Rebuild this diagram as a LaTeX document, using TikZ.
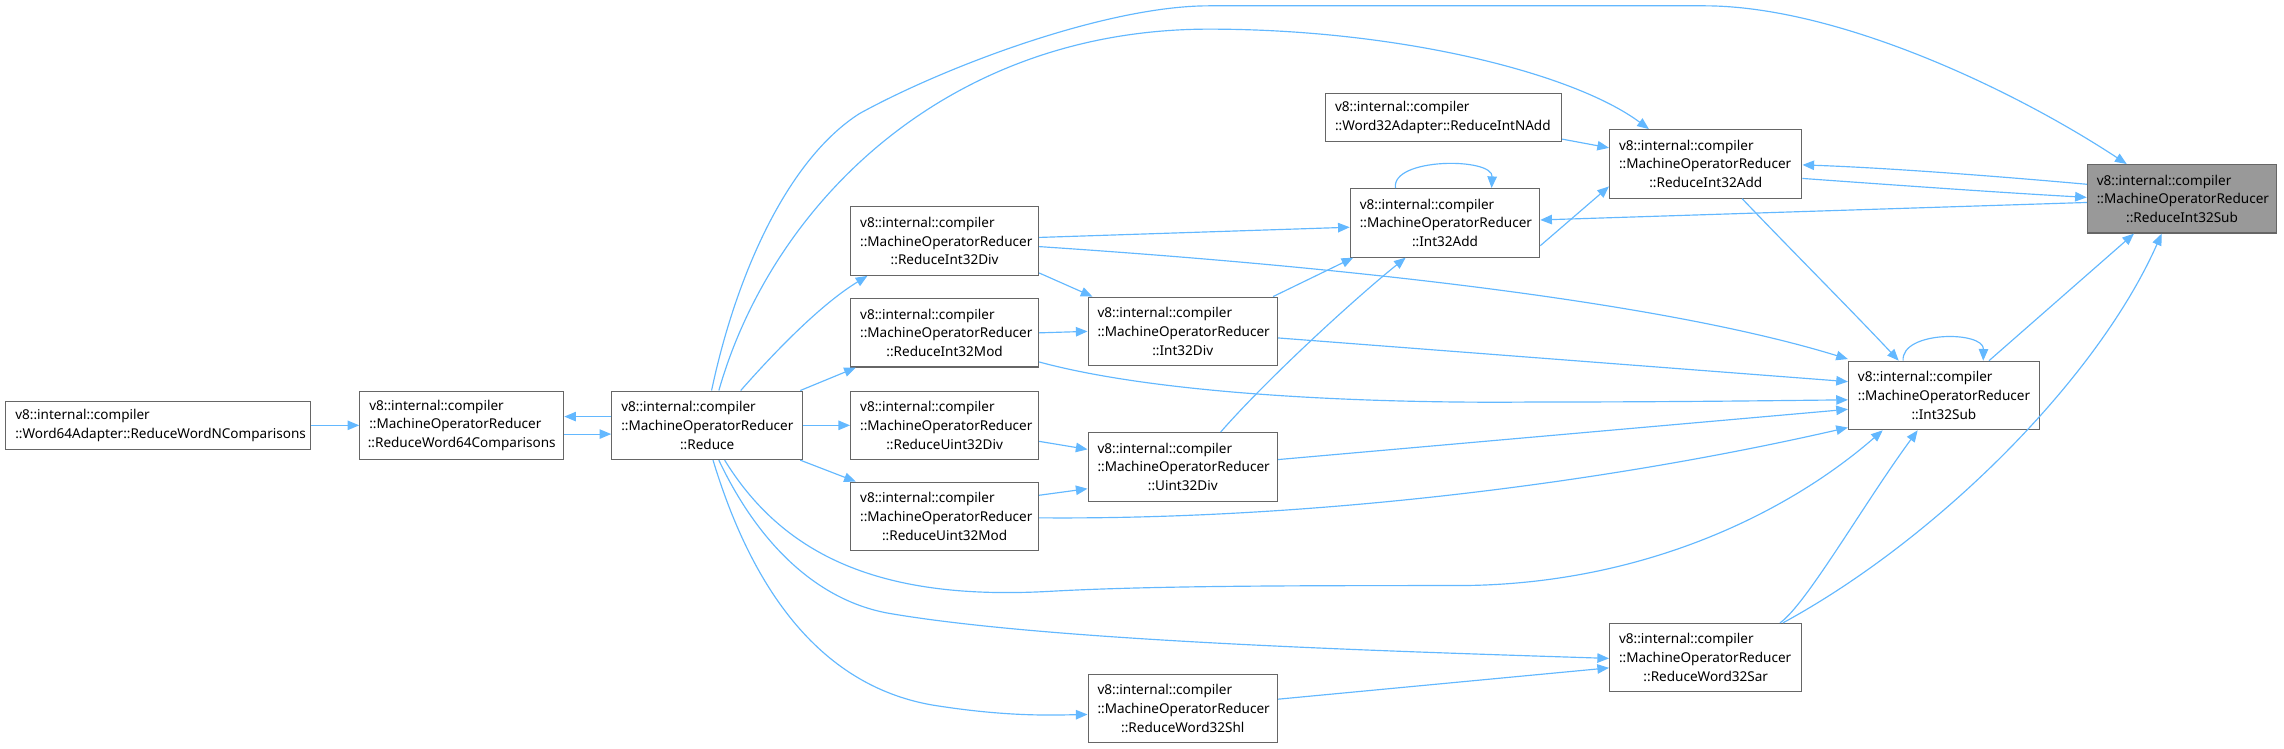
\documentclass[tikz,border=0pt]{standalone}
\usepackage{fontspec}
\setmainfont{Noto Sans}
\usetikzlibrary{arrows.meta}
\definecolor{edgeblue}{HTML}{63B8FF}
\definecolor{boxgray}{HTML}{666666}
\definecolor{focusgray}{HTML}{999999}
\newcommand{\ctrline}[1]{\hbox to \linewidth{\hss#1\hss}}
\tikzset{
  fn/.style={draw=boxgray, line width=0.8pt, fill=white, inner xsep=6.5pt, inner ysep=0pt,
    minimum height=47pt, align=left, font=\fontsize{9.3}{12.9}\selectfont, text width=#1},
  fn/.default=116pt,
  focus/.style={fill=focusgray},
  call/.style={draw=edgeblue, line width=0.8pt, -{Triangle[length=8pt,width=6.5pt]}},
}
\begin{document}
\begin{tikzpicture}[x=1pt,y=-1pt]
\useasboundingbox (0,0) rectangle (1568,514);
% nodes
\node[fn=196pt, minimum height=33pt] (N1) at (108.5,292) {v8::internal::compiler\\::Word64Adapter::ReduceWordNComparisons};
\node[fn=127pt] (N2) at (317,292) {v8::internal::compiler\\::MachineOperatorReducer\\\ctrline{::ReduceWord64Comparisons}};
\node[fn=118pt] (N3) at (485.5,292) {v8::internal::compiler\\::MachineOperatorReducer\\\ctrline{::Reduce}};
\node[fn] (N4) at (648.5,165.5) {v8::internal::compiler\\::MachineOperatorReducer\\\ctrline{::ReduceInt32Div}};
\node[fn] (N5) at (648.5,228.5) {v8::internal::compiler\\::MachineOperatorReducer\\\ctrline{::ReduceInt32Mod}};
\node[fn] (N6) at (648.5,292) {v8::internal::compiler\\::MachineOperatorReducer\\\ctrline{::ReduceUint32Div}};
\node[fn] (N7) at (648.5,354.5) {v8::internal::compiler\\::MachineOperatorReducer\\\ctrline{::ReduceUint32Mod}};
\node[fn=117pt] (N8) at (812,227.5) {v8::internal::compiler\\::MachineOperatorReducer\\\ctrline{::Int32Div}};
\node[fn=117pt] (N9) at (812,320.5) {v8::internal::compiler\\::MachineOperatorReducer\\\ctrline{::Uint32Div}};
\node[fn=117pt] (N10) at (812,486.5) {v8::internal::compiler\\::MachineOperatorReducer\\\ctrline{::ReduceWord32Shl}};
\node[fn=117pt] (N11) at (992,153) {v8::internal::compiler\\::MachineOperatorReducer\\\ctrline{::Int32Add}};
\node[fn=149pt, minimum height=33pt] (N12) at (991,80.5) {v8::internal::compiler\\::Word32Adapter::ReduceIntNAdd};
\node[fn=119pt] (N13) at (1171,112.5) {v8::internal::compiler\\::MachineOperatorReducer\\\ctrline{::ReduceInt32Add}};
\node[fn=118pt] (N14) at (1334.5,271.5) {v8::internal::compiler\\::MachineOperatorReducer\\\ctrline{::Int32Sub}};
\node[fn=119pt] (N15) at (1171,451.5) {v8::internal::compiler\\::MachineOperatorReducer\\\ctrline{::ReduceWord32Sar}};
\node[fn=117pt, focus] (N16) at (1498,136.5) {v8::internal::compiler\\::MachineOperatorReducer\\\ctrline{::ReduceInt32Sub}};
% edges
\draw[call] (N1.east) -- (N2.west);
\draw[call] ([yshift=6pt]N3.west) -- ([yshift=6pt]N2.east);
\draw[call] ([yshift=-6pt]N2.east) -- ([yshift=-6pt]N3.west);
\draw[call] ([xshift=23pt]N3.north) .. controls (535,238) and (565,208) .. ([xshift=-53pt]N4.south);
\draw[call] ([xshift=-2pt]N3.north east) -- ([xshift=-61pt]N5.south);
\draw[call] (N3.east) -- (N6.west);
\draw[call] ([xshift=-2pt]N3.south east) -- ([xshift=-61pt]N7.north);
\draw[call] ([yshift=2pt]N4.south east) -- ([xshift=-62pt]N8.north);
\draw[call] (N5.east) -- (N8.west);
\draw[call] ([yshift=-11pt]N6.east) -- ([yshift=12pt]N9.west);
\draw[call] ([yshift=14.5pt]N7.east) -- ([yshift=-15pt]N9.west);
\draw[call] ([yshift=2.5pt]N4.east) -- ([yshift=-3pt]N11.west);
\draw[call] ([xshift=62pt]N8.north) -- ([xshift=-63pt]N11.south);
\draw[call] ([xshift=26pt]N9.north) .. controls (870,260) and (930,205) .. ([xshift=-27pt]N11.south);
\draw[call] ([xshift=-34pt]N11.north) .. controls (955,108) and (1025,108) .. ([xshift=32pt]N11.north);
\draw[call] ([yshift=-15.7pt]N11.east) -- ([yshift=-15.5pt]N13.west);
\draw[call] ([yshift=-15pt]N12.east) -- ([yshift=11pt]N13.west);
\draw[call] ([yshift=10pt]N16.west) .. controls (1360,120) and (1290,115) .. ([yshift=-0.7pt]N13.east);
\draw[call] ([yshift=-10pt]N13.east) .. controls (1300,127) and (1370,132) .. ([yshift=1pt]N16.west);
\draw[call] ([yshift=-2.5pt]N16.west) -- ([yshift=2pt]N11.east);
\draw[call] ([xshift=25pt]N13.south) .. controls (1230,172) and (1270,212) .. ([xshift=-31pt]N14.north);
\draw[call] ([xshift=-28pt]N14.north) .. controls (1305,227) and (1362,227) .. ([xshift=27pt]N14.north);
\draw[call] ([xshift=31pt]N14.north) -- ([xshift=-33pt]N16.south);
\draw[call] ([xshift=53pt]N15.north) .. controls (1330,370) and (1440,260) .. ([xshift=-14pt]N16.south);
\draw[call] ([xshift=51pt]N15.north) .. controls (1240,415) and (1280,345) .. ([xshift=-18pt]N14.south);
\draw[call] ([yshift=-3.8pt]N4.east) .. controls (950,185) and (1150,210) .. ([yshift=25pt]N14.west);
\draw[call] ([yshift=-4.5pt]N8.east) -- ([yshift=9.5pt]N14.west);
\draw[call] ([yshift=-20pt]N5.east) .. controls (800,272) and (950,277) .. (1050,276) .. controls (1150,276) and (1220,275) .. ([yshift=-3pt]N14.west);
\draw[call] ([yshift=5pt]N9.east) -- ([yshift=-9.5pt]N14.west);
\draw[call] ([yshift=-1pt]N7.east) .. controls (900,357) and (1100,332) .. ([yshift=-22pt]N14.west);
\draw[call] ([xshift=12pt]N3.south) .. controls (540,385) and (610,412) .. (720,406) .. controls (790,402) and (900,402) .. (1000,402) .. controls (1130,402) and (1230,350) .. ([xshift=-42pt]N14.south);
\draw[call] ([xshift=8pt]N3.south) .. controls (520,372) and (560,412) .. (610,421) .. controls (720,440) and (950,447) .. ([yshift=-0.5pt]N15.west);
\draw[call] ([xshift=4pt]N3.south) .. controls (515,400) and (560,470) .. (640,484) .. controls (690,492) and (720,491) .. ([yshift=-4pt]N10.west);
\draw[call] ([yshift=6.5pt]N10.east) -- ([yshift=-7pt]N15.west);
\draw[call] ([xshift=8pt]N3.north) .. controls (530,140) and (650,20) .. (830,20) .. controls (960,20) and (1080,50) .. ([xshift=-39pt]N13.north);
\draw[call] ([xshift=3pt]N3.north) .. controls (505,190) and (540,110) .. (590,78) .. controls (650,45) and (760,4) .. (830,4) -- (1170,4) .. controls (1260,4) and (1380,60) .. ([xshift=-38pt]N16.north);
\end{tikzpicture}
\end{document}
